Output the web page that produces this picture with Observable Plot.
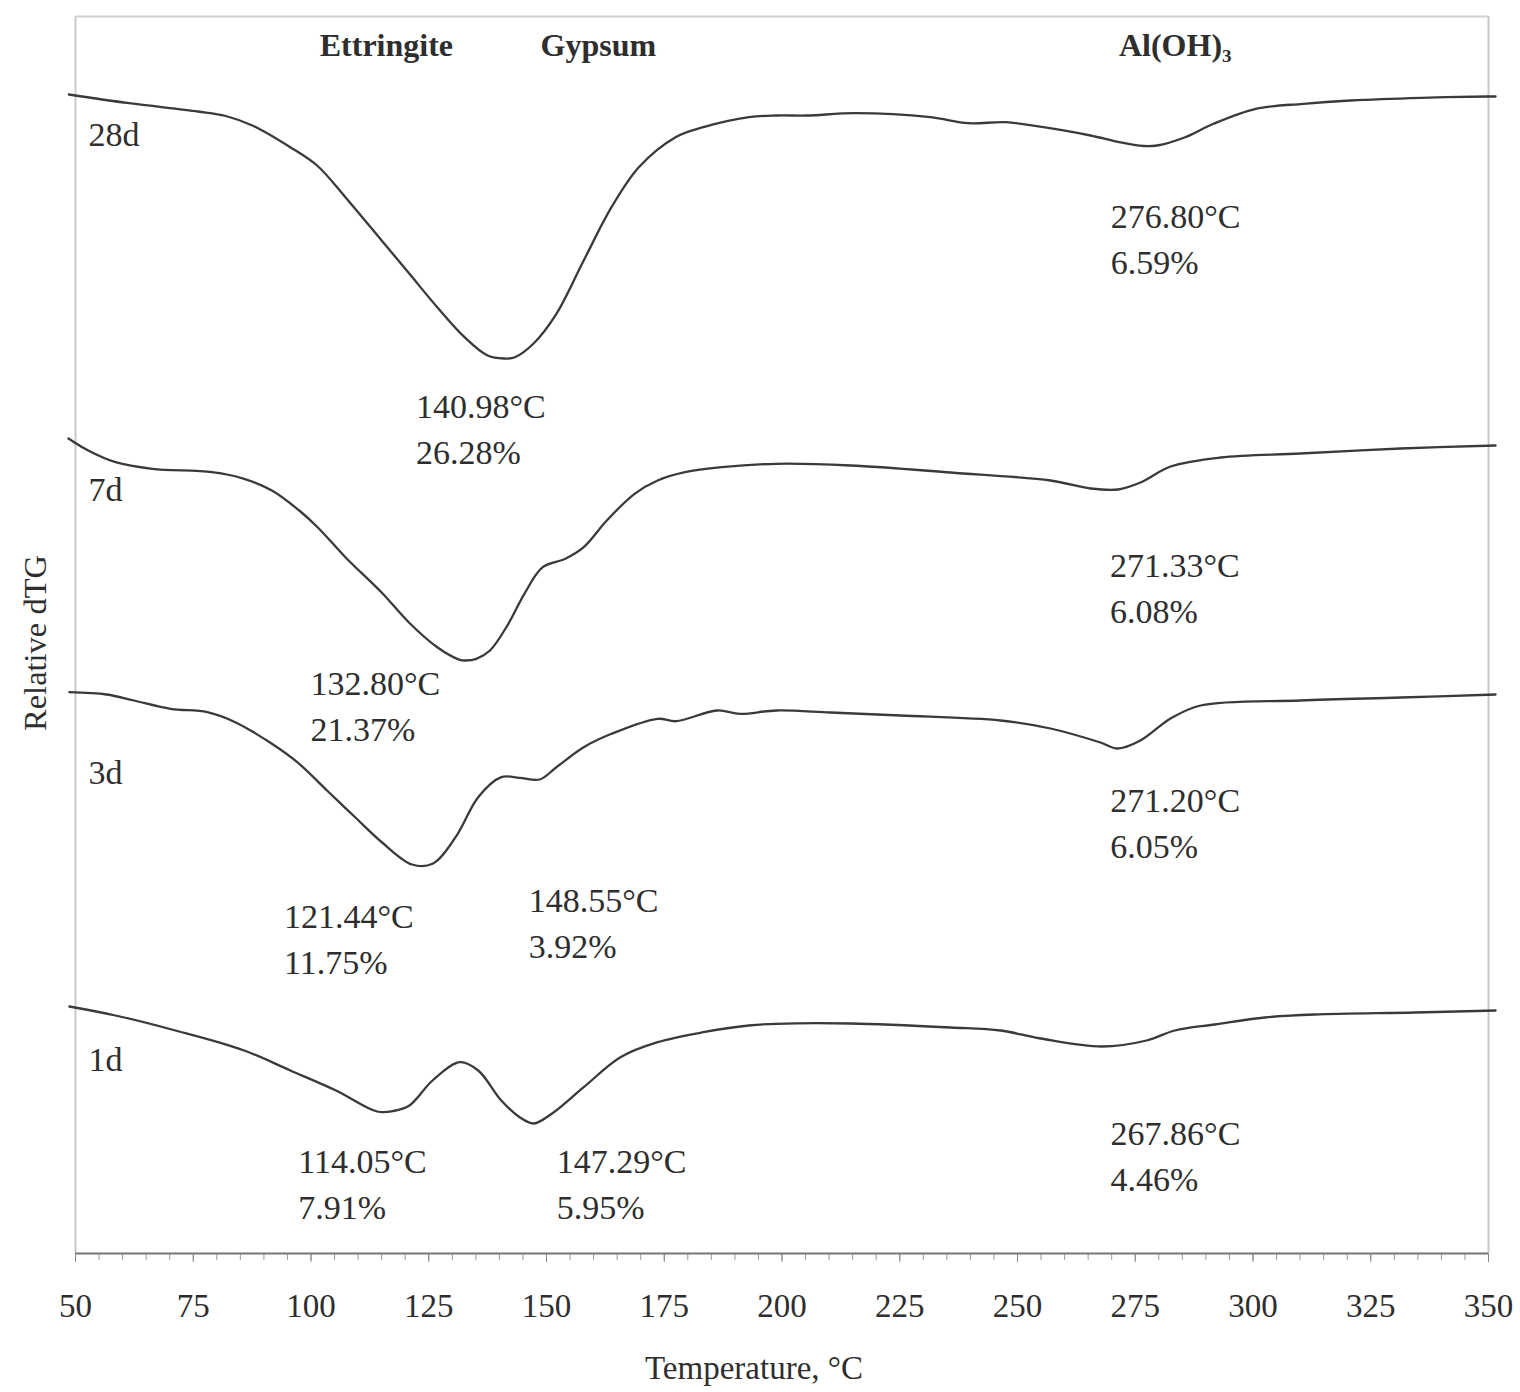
<!DOCTYPE html>
<html>
<head>
<meta charset="utf-8">
<script src="https://cdn.jsdelivr.net/npm/d3@7"></script>
<script src="https://cdn.jsdelivr.net/npm/@observablehq/plot@0.6"></script>
<style>
  html, body { margin: 0; padding: 0; background: #fff; }
  #chart { width: 1520px; height: 1392px; }
</style>
</head>
<body>
<div id="chart"></div>
<script>
// Derivative thermogravimetry (dTG) curves of the paste at four ages.
// Curves are stacked: each series carries its own vertical offset in relative units.

const ages = ["28d", "7d", "3d", "1d"];

const temp28 = [48.6, 61.4, 76.0, 81.9, 87.8, 95.6, 101.4, 107.3, 115.0, 120.9, 126.8, 132.6, 137.5, 140.98, 143.3, 147.2, 152.1, 157.9, 163.8, 169.6, 177.4, 183.3, 193.0, 198.8, 205.4, 215.5, 231.5, 239.5, 247.5, 255.5, 265.5, 271.6, 276.8, 279.6, 285.6, 291.6, 300.6, 310.7, 320.7, 335.7, 349.8, 351.5];
const dtg28  = [1159, 1150.3, 1142, 1137.5, 1127.5, 1106.3, 1087.5, 1056.3, 1013, 979.7, 946.3, 916.3, 898, 895, 896.3, 909.7, 939.7, 993, 1046.3, 1086.3, 1116.3, 1126.3, 1136.3, 1138, 1138, 1140.3, 1136.3, 1130.3, 1131.3, 1126.3, 1118, 1111.3, 1107.5, 1108, 1116.3, 1129.7, 1144.7, 1149.7, 1153, 1155.7, 1157, 1157];

const temp7 = [48.5, 52.7, 58.5, 66.3, 79.0, 85.8, 91.7, 97.5, 101.4, 107.3, 115.1, 120.9, 126.8, 131.6, 132.8, 135.1, 138.0, 141.9, 145.3, 149.2, 154.0, 157.9, 162.8, 168.7, 173.6, 179.4, 187.2, 198.8, 214.5, 235.8, 257.0, 265.5, 271.33, 276.1, 282.5, 293.1, 310.1, 331.3, 351.5];
const dtg7  = [815, 803, 791.3, 784.7, 781.3, 774.7, 763, 743, 726.3, 696.3, 660.5, 630.5, 606.3, 593.7, 593, 594.7, 603, 629.7, 659.7, 686.3, 694.7, 706.3, 733, 759.7, 773, 781.3, 786.3, 789.7, 788, 781, 773, 765, 764, 771, 787, 796, 800, 805, 808];

const temp3 = [48.7, 56.6, 62.4, 70.2, 78.0, 83.9, 91.7, 97.5, 103.4, 109.2, 115.1, 121.44, 125.8, 130.7, 135.5, 140.4, 144.3, 148.55, 152.1, 157.9, 163.8, 173.6, 177.5, 186.2, 191.1, 198.8, 210.3, 225.2, 246.4, 257.0, 267.6, 271.2, 276.1, 282.5, 288.9, 310.1, 331.3, 351.5];
const dtg3  = [561.3, 559, 553, 544.7, 541.3, 531.3, 509.7, 489.7, 463, 437, 411, 389, 389.7, 416.3, 456.3, 476.3, 475.7, 474, 486.3, 506.3, 519.7, 534.7, 532.3, 543, 539.7, 543, 541, 538, 533, 525, 511, 505, 513, 535, 548, 553, 556, 559];

const temp1 = [48.7, 58.5, 71.2, 85.8, 95.6, 105.3, 114.05, 117.5, 120.9, 125.8, 131.6, 135.5, 140.4, 144.3, 147.29, 151.1, 157.9, 165.7, 173.6, 183.3, 193.0, 198.8, 214.5, 235.8, 246.4, 254.9, 267.86, 277.4, 283.4, 291.9, 302.5, 313.1, 334.3, 351.5];
const dtg1  = [247, 238, 223, 203, 183, 163, 142, 142.5, 148, 173, 191.3, 183, 153, 136.3, 130, 139.7, 166.3, 196.3, 211.3, 221.3, 228, 229.7, 230, 226, 223, 215, 207, 213, 223, 229, 236, 239, 241, 243];

// Peak temperatures and mass-loss shares reported for each decomposition step
const peakAge   = ["28d", "28d", "7d", "7d", "3d", "3d", "3d", "1d", "1d", "1d"];
const peakTemp  = [140.98, 276.80, 132.80, 271.33, 121.44, 148.55, 271.20, 114.05, 147.29, 267.86];
const peakShare = [26.28, 6.59, 21.37, 6.08, 11.75, 3.92, 6.05, 7.91, 5.95, 4.46];

const phases = ["Ettringite", "Gypsum", "Al(OH)\u2083"];

// ---- layout (pixels) ----
const labelOffsets = [[-88, 45], [-33, 67], [-155, 20], [-8, 73], [-128, 49], [-11, 118], [-7, 49], [-79, 47], [23, 35], [9, 84]];
const ageLabelDy = [41, 52, 81, 54];
const phaseTemps = [116, 161, 283.5];

const series = {
  "28d": {temp: temp28, dtg: dtg28},
  "7d":  {temp: temp7,  dtg: dtg7},
  "3d":  {temp: temp3,  dtg: dtg3},
  "1d":  {temp: temp1,  dtg: dtg1}
};

const rows = ages.flatMap(age => series[age].temp.map((t, i) => ({age, temp: t, dtg: series[age].dtg[i]})));

const peaks = peakAge.map((age, i) => {
  const s = series[age];
  const j = s.temp.indexOf(peakTemp[i]);
  return {age, temp: peakTemp[i], dtg: s.dtg[j], text: `${peakTemp[i].toFixed(2)}°C\n${peakShare[i].toFixed(2)}%`};
});

const ink = "#2e2e2e";
const font = "Liberation Serif, Times New Roman, serif";
const yMax = 1237;

const marks = [
  // frame
  Plot.ruleX([50, 350], {stroke: "#c9c9c9", strokeWidth: 2}),
  Plot.ruleY([yMax], {stroke: "#cfcfcf", strokeWidth: 2}),
  // minor and major ticks on the temperature axis
  Plot.axisX({ticks: d3.range(50, 351, 5), tickSize: 7, tickFormat: () => "", stroke: "#999", label: null}),
  Plot.axisX({ticks: d3.range(50, 351, 25), tickSize: 9, tickPadding: 31, fontSize: 33, fill: ink, stroke: "#888", label: null}),
  Plot.ruleY([0], {stroke: "#777", strokeWidth: 2}),
  // dTG curves
  Plot.line(rows, {x: "temp", y: "dtg", z: "age", stroke: "#3a3a3a", strokeWidth: 2.3, curve: "catmull-rom"}),
  // age labels
  ...ages.map((age, i) => Plot.text([age], {
    frameAnchor: "left", y: () => series[age].dtg[0], dx: 13, dy: ageLabelDy[i],
    textAnchor: "start", fontSize: 34, fill: ink
  })),
  // phase names along the top
  Plot.text(phases, {x: (d, i) => phaseTemps[i], frameAnchor: "top", dy: 17, fontSize: 32, fontWeight: "bold", fill: ink}),
  // peak annotations
  ...peaks.map((p, i) => Plot.text([p], {
    x: "temp", y: "dtg", text: "text", textAnchor: "start", lineAnchor: "middle", lineHeight: 1.353,
    dx: labelOffsets[i][0], dy: labelOffsets[i][1] + 23, fontSize: 34, fill: ink
  })),
  // axis titles
  Plot.text(["Relative dTG"], {frameAnchor: "left", textAnchor: "middle", rotate: -90, dx: -40, dy: 8, fontSize: 32.5, fill: ink}),
  Plot.text(["Temperature, °C"], {frameAnchor: "bottom", dx: -28, dy: 125, fontSize: 33, fill: ink})
];

const chart = Plot.plot({
  width: 1520,
  height: 1392,
  marginLeft: 75,
  marginRight: 32,
  marginTop: 16,
  marginBottom: 139,
  style: {fontFamily: font, background: "#fff", overflow: "visible"},
  x: {domain: [50, 350], axis: null},
  y: {domain: [0, yMax], axis: null},
  marks
});

document.getElementById("chart").append(chart);
</script>
</body>
</html>
